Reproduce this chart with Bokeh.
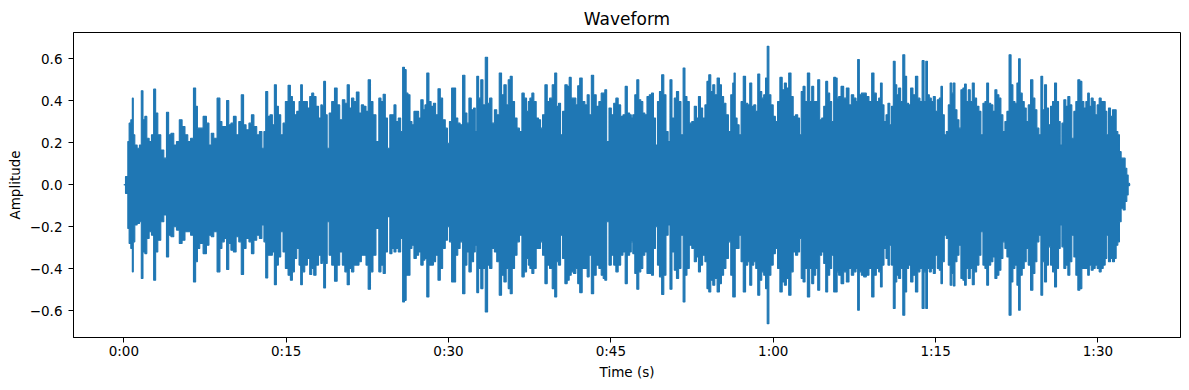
from bokeh.plotting import figure
from bokeh.models import Range1d, FixedTicker, ColumnDataSource
from bokeh.embed import file_html
from bokeh.resources import INLINE

# Waveform envelope: time (s), upper peak, lower peak
time_s = [
    0.00, 0.31, 0.43, 0.55, 0.74, 0.83, 0.92, 1.11, 1.35, 1.54,
    1.69, 1.85, 2.03, 2.22, 2.46, 2.65, 2.86, 3.02, 3.26, 3.57,
    3.82, 4.06, 4.22, 4.49, 4.74, 4.99, 5.26, 5.51, 5.79, 6.03,
    6.31, 6.56, 6.71, 6.89, 7.14, 7.51, 7.76, 7.97, 8.19, 8.43,
    8.80,
    8.96, 9.17, 9.39, 9.60, 9.79, 10.00, 10.25, 10.50, 10.74, 10.96,
    11.17, 11.42, 11.70, 11.88, 12.16, 12.40, 12.65, 12.87, 13.02, 13.20,
    13.39, 13.63, 13.82, 14.00, 14.19, 14.37, 14.62, 14.80, 15.05, 15.30,
    15.48, 15.67, 15.85, 16.10, 16.28, 16.40, 16.59, 16.84, 17.08, 17.27,
    17.45, 17.64, 17.88, 18.10, 18.31,
    18.37, 18.56, 18.71, 18.87, 19.08, 19.33, 19.60, 19.82, 20.07, 20.31,
    20.53, 20.74, 20.93, 21.14, 21.36, 21.61, 21.85, 22.04, 22.28, 22.47,
    22.68, 22.90, 23.14, 23.45, 23.67, 23.85, 24.07, 24.25, 24.47, 24.68,
    24.87, 25.05, 25.24, 25.48, 25.67, 25.85, 26.01, 26.16, 26.35, 26.53,
    26.71, 26.90, 27.15, 27.33, 27.55, 27.76,
    27.88, 28.10, 28.28, 28.50, 28.71, 28.90, 29.15, 29.33, 29.58, 29.82,
    29.98, 30.19, 30.38, 30.56, 30.75, 30.96, 31.18, 31.42, 31.61, 31.79,
    31.98, 32.22, 32.41, 32.53, 32.69, 32.87, 33.09, 33.27, 33.52, 33.70,
    33.89, 34.13, 34.35, 34.56, 34.81, 34.99, 35.24, 35.42, 35.61, 35.79,
    35.98, 36.22, 36.44, 36.66, 36.90, 37.09, 37.33,
    37.42, 37.61, 37.79, 37.98, 38.22, 38.41, 38.59, 38.78, 39.03, 39.21,
    39.46, 39.70, 39.92, 40.07, 40.26, 40.44, 40.63, 40.87, 41.06, 41.24,
    41.43, 41.67, 41.86, 42.01, 42.23, 42.47, 42.72, 42.90, 43.09, 43.30,
    43.52, 43.77, 44.01, 44.20, 44.38, 44.50, 44.72, 44.93, 45.15, 45.37,
    45.55, 45.80, 46.01, 46.23, 46.41, 46.63, 46.84,
    46.93, 47.12, 47.30, 47.49, 47.67, 47.86, 48.04, 48.23, 48.44, 48.66,
    48.84, 49.03, 49.21, 49.40, 49.58, 49.80, 49.98, 50.20, 50.38, 50.54,
    50.75, 50.97, 51.15, 51.37, 51.58, 51.77, 51.92, 52.14, 52.35, 52.60,
    52.81, 53.00, 53.18, 53.37, 53.58, 53.80, 53.95, 54.14, 54.32, 54.51,
    54.69, 54.94, 55.12, 55.31, 55.52, 55.74, 55.98, 56.17, 56.35,
    56.41, 56.57, 56.75, 56.94, 57.12, 57.34, 57.55, 57.74, 57.92, 58.11,
    58.29, 58.48, 58.66, 58.85, 59.03, 59.21, 59.37, 59.52, 59.68, 59.89,
    60.11, 60.29, 60.51, 60.72, 60.94, 61.12, 61.31, 61.55, 61.74, 61.95,
    62.17, 62.35, 62.51, 62.66, 62.85, 63.03, 63.28, 63.46, 63.65, 63.83,
    64.02, 64.20, 64.39, 64.57, 64.76, 64.94, 65.12, 65.31, 65.49, 65.68,
    65.86,
    65.95, 66.14, 66.39, 66.63, 66.88, 67.12, 67.31, 67.56, 67.74, 67.86,
    68.05, 68.23, 68.48, 68.72, 68.97, 69.22, 69.40, 69.65, 69.83, 69.99,
    70.14, 70.33, 70.51, 70.69, 70.85, 71.00, 71.19, 71.34, 71.49, 71.68,
    71.86, 72.08, 72.23, 72.42, 72.60, 72.79, 73.03, 73.25, 73.46, 73.65,
    73.86, 74.02, 74.17, 74.33, 74.51, 74.70, 74.88, 75.07, 75.25,
    75.43, 75.56, 75.71, 75.90, 76.08, 76.27, 76.42, 76.57, 76.70, 76.88,
    77.07, 77.25, 77.43, 77.62, 77.74, 77.93, 78.11, 78.30, 78.48, 78.67,
    78.91, 79.10, 79.28, 79.47, 79.65, 79.80, 79.99, 80.20, 80.39, 80.57,
    80.76, 80.94, 81.13, 81.31, 81.50, 81.68, 81.90, 82.05, 82.24, 82.42,
    82.61, 82.73, 82.91, 83.10, 83.28, 83.47, 83.65, 83.90, 84.08, 84.27,
    84.45, 84.64, 84.82,
    84.97, 85.16, 85.34, 85.53, 85.71, 85.90, 86.08, 86.27, 86.45, 86.58,
    86.76, 86.94, 87.13, 87.31, 87.50, 87.68, 87.87, 88.05, 88.24, 88.42,
    88.61, 88.79, 88.98, 89.13, 89.28, 89.47, 89.65, 89.84, 90.02, 90.21,
    90.39, 90.58, 90.76, 90.88, 91.07, 91.25, 91.44, 91.62, 91.75, 91.93,
    92.05, 92.24, 92.42, 92.61, 92.73, 92.86, 92.98,
]

amp_upper = [
    0.000, 0.039, 0.206, 0.294, 0.310, 0.413, 0.238, 0.190, 0.174, 0.190,
    0.448, 0.310, 0.326, 0.222, 0.206, 0.238, 0.456, 0.342, 0.238, 0.166,
    0.127, 0.346, 0.238, 0.246, 0.190, 0.206, 0.310, 0.278, 0.238, 0.206,
    0.222, 0.461, 0.374, 0.270, 0.270, 0.326, 0.294, 0.190, 0.246, 0.222,
    0.413,
    0.302, 0.278, 0.278, 0.402, 0.286, 0.294, 0.326, 0.238, 0.302, 0.429,
    0.286, 0.262, 0.294, 0.334, 0.278, 0.238, 0.254, 0.174, 0.254, 0.445,
    0.326, 0.334, 0.286, 0.477, 0.374, 0.334, 0.238, 0.294, 0.397, 0.474,
    0.421, 0.397, 0.334, 0.350, 0.397, 0.477, 0.397, 0.397, 0.366, 0.421,
    0.437, 0.421, 0.374, 0.318, 0.381,
    0.374, 0.493, 0.334, 0.174, 0.342, 0.397, 0.461, 0.381, 0.310, 0.405,
    0.389, 0.477, 0.366, 0.413, 0.397, 0.442, 0.342, 0.381, 0.374, 0.350,
    0.501, 0.397, 0.334, 0.206, 0.413, 0.397, 0.432, 0.318, 0.174, 0.334,
    0.334, 0.381, 0.302, 0.318, 0.254, 0.560, 0.549, 0.437, 0.429, 0.302,
    0.286, 0.350, 0.350, 0.318, 0.405, 0.358,
    0.381, 0.533, 0.397, 0.374, 0.389, 0.334, 0.458, 0.413, 0.310, 0.270,
    0.198, 0.302, 0.461, 0.461, 0.318, 0.294, 0.286, 0.522, 0.342, 0.294,
    0.413, 0.358, 0.366, 0.254, 0.517, 0.413, 0.501, 0.381, 0.608, 0.389,
    0.413, 0.294, 0.358, 0.334, 0.533, 0.429, 0.477, 0.381, 0.501, 0.517,
    0.397, 0.318, 0.270, 0.254, 0.437, 0.413, 0.350,
    0.397, 0.413, 0.437, 0.397, 0.318, 0.310, 0.270, 0.334, 0.477, 0.397,
    0.413, 0.477, 0.533, 0.374, 0.389, 0.238, 0.350, 0.477, 0.469, 0.512,
    0.413, 0.413, 0.381, 0.472, 0.509, 0.397, 0.381, 0.429, 0.334, 0.522,
    0.429, 0.374, 0.397, 0.437, 0.437, 0.453, 0.206, 0.366, 0.334, 0.389,
    0.413, 0.381, 0.326, 0.334, 0.469, 0.342, 0.334,
    0.318, 0.334, 0.429, 0.501, 0.405, 0.397, 0.342, 0.334, 0.421, 0.429,
    0.437, 0.318, 0.190, 0.397, 0.445, 0.525, 0.429, 0.254, 0.206, 0.501,
    0.318, 0.413, 0.445, 0.397, 0.238, 0.557, 0.421, 0.397, 0.294, 0.302,
    0.374, 0.318, 0.421, 0.366, 0.318, 0.381, 0.493, 0.525, 0.445, 0.477,
    0.429, 0.509, 0.477, 0.421, 0.389, 0.334, 0.254, 0.429, 0.485,
    0.533, 0.318, 0.286, 0.238, 0.397, 0.517, 0.389, 0.381, 0.485, 0.374,
    0.381, 0.350, 0.528, 0.445, 0.413, 0.429, 0.509, 0.660, 0.429, 0.381,
    0.326, 0.302, 0.397, 0.512, 0.453, 0.485, 0.461, 0.533, 0.421, 0.326,
    0.334, 0.318, 0.238, 0.445, 0.469, 0.397, 0.533, 0.397, 0.469, 0.397,
    0.397, 0.501, 0.310, 0.318, 0.374, 0.493, 0.437, 0.397, 0.302, 0.512,
    0.509,
    0.413, 0.421, 0.469, 0.413, 0.461, 0.381, 0.429, 0.413, 0.397, 0.597,
    0.429, 0.437, 0.437, 0.421, 0.397, 0.533, 0.437, 0.397, 0.413, 0.485,
    0.381, 0.302, 0.334, 0.389, 0.286, 0.374, 0.589, 0.477, 0.429, 0.461,
    0.397, 0.620, 0.517, 0.389, 0.381, 0.461, 0.429, 0.517, 0.413, 0.397,
    0.592, 0.397, 0.589, 0.429, 0.413, 0.397, 0.421, 0.350, 0.405,
    0.413, 0.469, 0.334, 0.238, 0.254, 0.381, 0.485, 0.437, 0.485, 0.358,
    0.310, 0.270, 0.453, 0.461, 0.480, 0.397, 0.453, 0.397, 0.485, 0.413,
    0.374, 0.350, 0.238, 0.389, 0.397, 0.485, 0.389, 0.381, 0.350, 0.453,
    0.429, 0.413, 0.334, 0.254, 0.302, 0.350, 0.620, 0.477, 0.397, 0.389,
    0.485, 0.601, 0.437, 0.397, 0.366, 0.302, 0.381, 0.501, 0.413, 0.358,
    0.270, 0.238, 0.517,
    0.358, 0.477, 0.366, 0.286, 0.374, 0.397, 0.485, 0.397, 0.302, 0.190,
    0.294, 0.405, 0.374, 0.421, 0.381, 0.222, 0.350, 0.397, 0.501, 0.493,
    0.397, 0.366, 0.397, 0.437, 0.374, 0.413, 0.397, 0.334, 0.381, 0.413,
    0.397, 0.397, 0.350, 0.238, 0.366, 0.326, 0.358, 0.358, 0.254, 0.238,
    0.158, 0.127, 0.127, 0.079, 0.047, 0.007, 0.000,
]

amp_lower = [
    0.000, -0.041, -0.208, -0.280, -0.304, -0.415, -0.272, -0.192, -0.184, -0.176,
    -0.447, -0.320, -0.328, -0.256, -0.224, -0.240, -0.455, -0.320, -0.264, -0.176,
    -0.144, -0.344, -0.240, -0.248, -0.200, -0.216, -0.280, -0.264, -0.224, -0.224,
    -0.240, -0.463, -0.367, -0.304, -0.280, -0.328, -0.288, -0.240, -0.248, -0.224,
    -0.415,
    -0.304, -0.272, -0.256, -0.404, -0.280, -0.312, -0.320, -0.248, -0.272, -0.428,
    -0.304, -0.256, -0.272, -0.328, -0.264, -0.240, -0.256, -0.192, -0.272, -0.444,
    -0.336, -0.336, -0.320, -0.476, -0.383, -0.344, -0.224, -0.320, -0.399, -0.431,
    -0.455, -0.415, -0.351, -0.304, -0.383, -0.476, -0.415, -0.383, -0.351, -0.428,
    -0.399, -0.431, -0.383, -0.336, -0.375,
    -0.367, -0.492, -0.375, -0.176, -0.336, -0.383, -0.460, -0.383, -0.320, -0.383,
    -0.415, -0.476, -0.399, -0.415, -0.383, -0.383, -0.367, -0.336, -0.336, -0.383,
    -0.498, -0.415, -0.336, -0.208, -0.415, -0.383, -0.423, -0.320, -0.152, -0.328,
    -0.304, -0.320, -0.304, -0.320, -0.256, -0.559, -0.551, -0.431, -0.431, -0.304,
    -0.288, -0.351, -0.336, -0.320, -0.383, -0.359,
    -0.351, -0.535, -0.383, -0.383, -0.367, -0.336, -0.455, -0.399, -0.304, -0.264,
    -0.200, -0.272, -0.463, -0.463, -0.336, -0.304, -0.272, -0.519, -0.383, -0.320,
    -0.415, -0.367, -0.320, -0.288, -0.514, -0.399, -0.495, -0.399, -0.606, -0.383,
    -0.399, -0.304, -0.320, -0.367, -0.527, -0.431, -0.463, -0.399, -0.495, -0.519,
    -0.399, -0.336, -0.272, -0.240, -0.439, -0.415, -0.351,
    -0.383, -0.399, -0.423, -0.399, -0.304, -0.304, -0.272, -0.336, -0.471, -0.383,
    -0.399, -0.495, -0.535, -0.367, -0.383, -0.240, -0.351, -0.471, -0.455, -0.431,
    -0.415, -0.423, -0.399, -0.471, -0.514, -0.399, -0.399, -0.439, -0.336, -0.519,
    -0.431, -0.383, -0.399, -0.431, -0.447, -0.455, -0.176, -0.383, -0.336, -0.383,
    -0.415, -0.383, -0.336, -0.320, -0.471, -0.336, -0.320,
    -0.272, -0.328, -0.423, -0.498, -0.415, -0.399, -0.336, -0.320, -0.423, -0.423,
    -0.431, -0.304, -0.200, -0.383, -0.439, -0.523, -0.431, -0.240, -0.192, -0.498,
    -0.320, -0.407, -0.447, -0.399, -0.240, -0.559, -0.431, -0.399, -0.288, -0.304,
    -0.367, -0.344, -0.415, -0.383, -0.336, -0.367, -0.495, -0.511, -0.455, -0.479,
    -0.447, -0.511, -0.471, -0.431, -0.399, -0.351, -0.272, -0.431, -0.535,
    -0.535, -0.304, -0.304, -0.240, -0.367, -0.511, -0.383, -0.367, -0.479, -0.383,
    -0.367, -0.399, -0.527, -0.455, -0.415, -0.431, -0.495, -0.662, -0.431, -0.383,
    -0.328, -0.304, -0.399, -0.511, -0.463, -0.479, -0.447, -0.527, -0.415, -0.320,
    -0.336, -0.320, -0.256, -0.447, -0.463, -0.399, -0.535, -0.399, -0.471, -0.431,
    -0.399, -0.503, -0.336, -0.320, -0.375, -0.511, -0.431, -0.399, -0.336, -0.511,
    -0.511,
    -0.415, -0.431, -0.471, -0.415, -0.463, -0.399, -0.431, -0.415, -0.399, -0.598,
    -0.415, -0.431, -0.439, -0.431, -0.399, -0.535, -0.431, -0.399, -0.415, -0.487,
    -0.383, -0.304, -0.351, -0.383, -0.288, -0.383, -0.590, -0.463, -0.431, -0.447,
    -0.399, -0.622, -0.511, -0.399, -0.383, -0.463, -0.431, -0.511, -0.415, -0.399,
    -0.590, -0.415, -0.590, -0.399, -0.415, -0.399, -0.423, -0.336, -0.399,
    -0.407, -0.471, -0.367, -0.240, -0.256, -0.383, -0.479, -0.423, -0.482, -0.367,
    -0.336, -0.288, -0.447, -0.455, -0.479, -0.399, -0.447, -0.399, -0.476, -0.415,
    -0.383, -0.336, -0.224, -0.383, -0.399, -0.479, -0.383, -0.367, -0.344, -0.447,
    -0.431, -0.407, -0.351, -0.272, -0.304, -0.344, -0.622, -0.463, -0.399, -0.383,
    -0.479, -0.598, -0.431, -0.399, -0.367, -0.304, -0.383, -0.503, -0.423, -0.367,
    -0.272, -0.240, -0.527,
    -0.367, -0.463, -0.383, -0.296, -0.383, -0.415, -0.487, -0.399, -0.304, -0.192,
    -0.296, -0.399, -0.383, -0.431, -0.367, -0.240, -0.344, -0.431, -0.503, -0.495,
    -0.399, -0.399, -0.399, -0.431, -0.383, -0.407, -0.399, -0.383, -0.399, -0.415,
    -0.399, -0.383, -0.351, -0.240, -0.367, -0.351, -0.367, -0.351, -0.288, -0.272,
    -0.176, -0.112, -0.120, -0.080, -0.049, -0.004, 0.000,
]

x_ticks = [0, 15, 30, 45, 60, 75, 90]
x_tick_labels = ["0:00", "0:15", "0:30", "0:45", "1:00", "1:15", "1:30"]
y_ticks = [-0.6, -0.4, -0.2, 0.0, 0.2, 0.4, 0.6]
y_tick_labels = ["\u22120.6", "\u22120.4", "\u22120.2", "0.0", "0.2", "0.4", "0.6"]

assert len(time_s) == len(amp_upper) == len(amp_lower), (len(time_s), len(amp_upper), len(amp_lower))

BLUE = "#1f77b4"
FONT = "DejaVu Sans"

src = ColumnDataSource(dict(t=time_s, hi=amp_upper, lo=amp_lower))

# matplotlib-like 5% margins
tmin, tmax = min(time_s), max(time_s)
ymin, ymax = min(amp_lower), max(amp_upper)
tpad = 0.05 * (tmax - tmin)
ypad = 0.05 * (ymax - ymin)

p = figure(
    width=1189, height=390,
    output_backend="svg", toolbar_location=None,
    x_range=Range1d(tmin - tpad, tmax + tpad),
    y_range=Range1d(ymin - ypad, ymax + ypad),
    min_border_left=73, min_border_right=9, min_border_top=32, min_border_bottom=53,
    title="Waveform",
)

p.varea_step(x="t", y1="lo", y2="hi", source=src, fill_color=BLUE, step_mode="center")
p.step(x="t", y="hi", source=src, line_color=BLUE, line_width=1.1, mode="center")
p.step(x="t", y="lo", source=src, line_color=BLUE, line_width=1.1, mode="center")

p.title.align = "center"
p.title.text_font = FONT
p.title.text_font_size = "17px"
p.title.text_font_style = "normal"
p.title.text_color = "black"
p.title.standoff = 7

p.xgrid.visible = False
p.ygrid.visible = False
p.outline_line_color = "black"
p.outline_line_width = 1
p.outline_line_alpha = 1
p.background_fill_color = "white"
p.border_fill_color = "white"

for ax in (p.xaxis[0], p.yaxis[0]):
    ax.major_tick_in = 0
    ax.major_tick_out = 5
    ax.minor_tick_in = 0
    ax.minor_tick_out = 0
    ax.major_tick_line_color = "black"
    ax.axis_line_color = "black"
    ax.major_label_text_font = FONT
    ax.major_label_text_font_size = "13.5px"
    ax.major_label_text_color = "black"
    ax.axis_label_text_font = FONT
    ax.axis_label_text_font_size = "13.5px"
    ax.axis_label_text_font_style = "normal"
    ax.axis_label_text_color = "black"

p.xaxis[0].ticker = FixedTicker(ticks=x_ticks)
p.xaxis[0].major_label_overrides = dict(zip(x_ticks, x_tick_labels))
p.xaxis[0].axis_label = "Time (s)"
p.xaxis[0].major_label_standoff = 0
p.xaxis[0].axis_label_standoff = 2

p.yaxis[0].ticker = FixedTicker(ticks=y_ticks)
p.yaxis[0].major_label_overrides = dict(zip(y_ticks, y_tick_labels))
p.yaxis[0].axis_label = "Amplitude"
p.yaxis[0].major_label_standoff = 6
p.yaxis[0].axis_label_standoff = 4

open("out.html", "w").write(file_html(p, INLINE))
